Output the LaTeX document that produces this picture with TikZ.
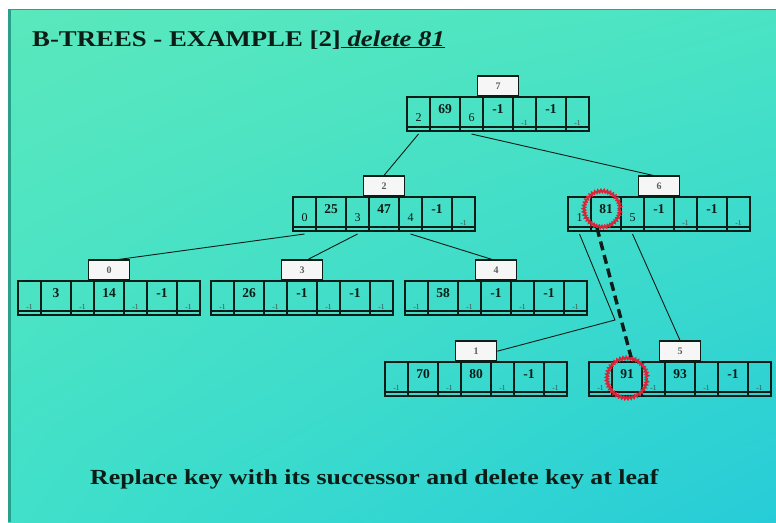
\documentclass[tikz,border=0pt]{standalone}
\usepackage{fontspec}
\setmainfont{Liberation Serif}
\usetikzlibrary{calc,decorations.pathmorphing,shadings}

\definecolor{ink}{RGB}{12,28,22}
\definecolor{bgUL}{RGB}{90,232,188}
\definecolor{bgUR}{RGB}{74,228,196}
\definecolor{bgLL}{RGB}{64,224,202}
\definecolor{bgLR}{RGB}{38,204,216}
\definecolor{slideedge}{RGB}{40,160,140}
\definecolor{ringred}{RGB}{218,36,56}
\definecolor{tagfill}{RGB}{246,246,246}

\tikzset{
  btbox/.style={draw=ink, line width=2.6, minimum width=182pt, minimum height=34pt,
    inner sep=0pt, outer sep=0pt},
  btinner/.style={draw=ink, line width=1.2},
  btdiv/.style={draw=ink, line width=2},
  bttag/.style={draw=ink, fill=tagfill, line width=1.6, minimum width=41pt,
    minimum height=20pt, inner sep=0pt, font=\fontsize{10}{10}\selectfont\bfseries,
    text=ink!70},
  keytext/.style={inner sep=0pt, text=ink, font=\fontsize{13.5}{13.5}\selectfont\bfseries},
  ptrtext/.style={inner sep=0pt, text=ink, font=\fontsize{12}{12}\selectfont},
  ptrsmall/.style={inner sep=0pt, text=ink!80, font=\fontsize{7.5}{7.5}\selectfont},
  link/.style={draw=ink, line width=0.9},
  succ/.style={draw=ink, line width=3.4, dash pattern=on 9pt off 5pt},
  ring/.style={circle, draw=ringred, line width=1.9, inner sep=0pt,
    decorate, decoration={zigzag, segment length=3pt, amplitude=1.2pt}},
  headline/.style={inner sep=0pt, text=ink, font=\fontsize{22.5}{26}\selectfont\bfseries},
}

% one B-tree node: name, centre x, top y, disk address, seven cell values
\newcommand{\btnode}[5]{%
  \node[btbox] (#1) at (#2,#3+17) {};
  \draw[btinner] ($(#1.south west)+(0,-4)$) -- ($(#1.south east)+(0,-4)$);
  \node[bttag, anchor=south] (#1-tag) at (#1.north) {#4};
  \foreach \v [count=\i from 0] in {#5} {
    \pgfmathtruncatemacro\cellOdd{mod(\i,2)}
    \pgfmathsetmacro\cellL{int(\i/2)*53+\cellOdd*23}
    \ifnum\i>0
      \draw[btdiv] ($(#1.north west)+(\cellL,0)$) -- ($(#1.south west)+(\cellL,0)$);
    \fi
    \ifnum\cellOdd=1
      \node[keytext] (#1-c\i) at ($(#1.north west)+(\cellL+15,12)$) {\v};
    \else
      \ifnum\v=-1
        \node[ptrsmall] (#1-c\i) at ($(#1.north west)+(\cellL+11.5,26)$) {-1};
      \else
        \node[ptrtext] (#1-c\i) at ($(#1.north west)+(\cellL+11.5,21)$) {\v};
      \fi
    \fi
  }%
}

\begin{document}
\begin{tikzpicture}[x=1pt, y=-1pt]
  \useasboundingbox (0,0) rectangle (776,522);
  \fill[white] (0,0) rectangle (776,522);
  % slide background
  \shade[upper left=bgUL, upper right=bgUR, lower left=bgLL, lower right=bgLR]
    (8,9) rectangle (776,522);
  \fill[slideedge] (8,9) rectangle (11,522);
  \draw[slideedge, line width=0.8] (8,9.4) -- (776,9.4);

  % heading
  \node[headline, anchor=base west] (title) at (32,46)
    {\scalebox{1.19}[1]{B-TREES - EXAMPLE [2]\underline{\itshape\ delete 81}}};

  % tree nodes
  \btnode{n7}{498}{97}{7}{2,69,6,-1,-1,-1,-1}
  \btnode{n2}{384}{197}{2}{0,25,3,47,4,-1,-1}
  \btnode{n6}{659}{197}{6}{1,81,5,-1,-1,-1,-1}
  \btnode{n0}{109}{281}{0}{-1,3,-1,14,-1,-1,-1}
  \btnode{n3}{302}{281}{3}{-1,26,-1,-1,-1,-1,-1}
  \btnode{n4}{496}{281}{4}{-1,58,-1,-1,-1,-1,-1}
  \btnode{n1}{476}{362}{1}{-1,70,-1,80,-1,-1,-1}
  \btnode{n5}{680}{362}{5}{-1,91,-1,93,-1,-1,-1}

  % child pointers, leaving from the bottom of their pointer cells
  \draw[link] ($(n7-c0 |- n7.south)+(0,3)$) -- (n2-tag.north);
  \draw[link] ($(n7-c2 |- n7.south)+(0,3)$) -- ($(n6-tag.north)+(-6,0)$);
  \draw[link] ($(n2-c0 |- n2.south)+(0,3)$) -- ($(n0-tag.north)+(10,0)$);
  \draw[link] ($(n2-c2 |- n2.south)+(0,3)$) -- ($(n3-tag.north)+(6,0)$);
  \draw[link] ($(n2-c4 |- n2.south)+(0,3)$) -- ($(n4-tag.north)+(-4,0)$);
  \coordinate (kink) at (615,320);
  \draw[link] ($(n6-c0 |- n6.south)+(0,3)$) -- (kink) -- (n1-tag.east);
  \draw[link] ($(n6-c2 |- n6.south)+(0,3)$) -- (n5-tag.north);

  % deleted key and its successor
  \node[ring, minimum size=36pt] (ring81) at ($(n6-c1)+(-4,0)$) {};
  \node[ring, minimum size=40pt] (ring91) at ($(n5-c1)+(0,4)$) {};
  \draw[succ] ($(ring81.south)+(-5,0)$) -- ($(ring91.north)+(4,0)$);

  % caption
  \node[headline, anchor=base west, font=\fontsize{21.5}{25}\selectfont\bfseries]
    (caption) at (90,484)
    {\scalebox{1.2}[1]{Replace key with its successor and delete key at leaf}};
\end{tikzpicture}
\end{document}
